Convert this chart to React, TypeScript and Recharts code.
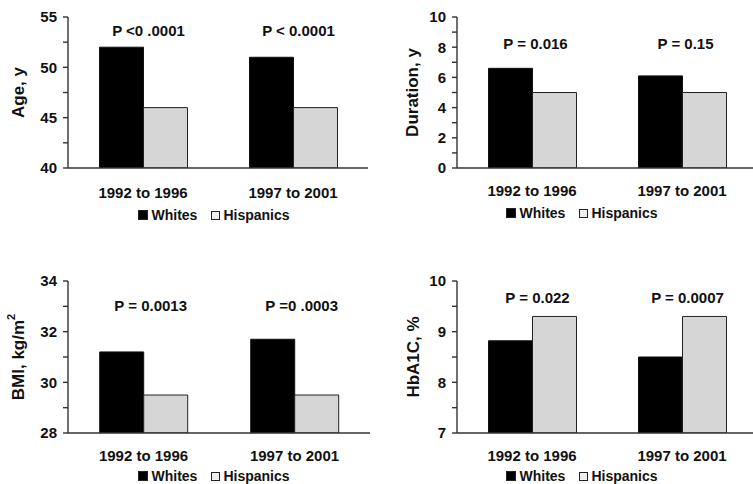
import React from 'react';
import { BarChart, Bar, XAxis, YAxis, Legend, LabelList } from 'recharts';

const periods = ['1992 to 1996', '1997 to 2001'];
const seriesNames = ['Whites', 'Hispanics'];

const ageWhites = [52, 51];
const ageHispanics = [46, 46];
const ageP = ['P <0 .0001', 'P < 0.0001'];
const ageTicks = [40, 42.5, 45, 47.5, 50, 52.5, 55];
const ageLabels = [40, 45, 50, 55];

const durWhites = [6.6, 6.1];
const durHispanics = [5.0, 5.0];
const durP = ['P = 0.016', 'P = 0.15'];
const durTicks = [0, 1, 2, 3, 4, 5, 6, 7, 8, 9, 10];
const durLabels = [0, 2, 4, 6, 8, 10];

const bmiWhites = [31.2, 31.7];
const bmiHispanics = [29.5, 29.5];
const bmiP = ['P = 0.0013', 'P =0 .0003'];
const bmiTicks = [28, 29, 30, 31, 32, 33, 34];
const bmiLabels = [28, 30, 32, 34];

const hbaWhites = [8.82, 8.5];
const hbaHispanics = [9.3, 9.3];
const hbaP = ['P = 0.022', 'P = 0.0007'];
const hbaTicks = [7, 7.5, 8, 8.5, 9, 9.5, 10];
const hbaLabels = [7, 8, 9, 10];

const FONT = '"Liberation Sans", Arial, sans-serif';
const INK = '#111';
const AXIS = '#333';
const GRAY = '#d6d6d6';

type PanelProps = {
  left: number;
  top: number;
  width: number;
  height: number;
  margin: { top: number; right: number; bottom: number; left: number };
  yAxisWidth: number;
  domain: [number, number];
  ticks: number[];
  labels: number[];
  yLabel: React.ReactNode;
  yLabelX: number;
  whites: number[];
  hispanics: number[];
  pvals: string[];
  pOffset: number;
  pDx: number;
  xTickMargin: number;
  legendTop: number;
  legendLeft: number;
  legendWidth: number;
};

const LegendContent = (props: any) => {
  const payload = [...(props.payload || [])].sort(
    (a: any, b: any) => seriesNames.indexOf(a.value) - seriesNames.indexOf(b.value)
  );
  return (
    <div
      style={{
        display: 'flex',
        justifyContent: 'center',
        alignItems: 'center',
        fontFamily: FONT,
        fontWeight: 700,
        fontSize: 14,
        color: INK,
        lineHeight: '16px',
      }}
    >
      {payload.map((entry: any, i: number) => (
        <span key={i} style={{ display: 'flex', alignItems: 'center', marginLeft: i === 0 ? 0 : 14 }}>
          <span
            style={{
              display: 'inline-block',
              width: i === 0 ? 10 : 9,
              height: i === 0 ? 10 : 9,
              boxSizing: 'border-box',
              background: i === 0 ? entry.color : '#eeeeee',
              border: '1.5px solid #222',
              marginRight: 3,
              flex: 'none',
            }}
          />
          <span style={{ fontFamily: FONT, fontWeight: 700, fontSize: 14 }}>{entry.value}</span>
        </span>
      ))}
    </div>
  );
};

function Panel(p: PanelProps) {
  const data = periods.map((period, i) => ({
    period,
    whites: p.whites[i],
    hispanics: p.hispanics[i],
    p: p.pvals[i],
  }));
  const pLabel = (lp: any) => (
    <text
      x={lp.x + lp.width + p.pDx}
      y={p.margin.top + p.pOffset}
      textAnchor="middle"
      dominantBaseline="central"
      fontFamily={FONT}
      fontWeight="bold"
      fontSize={15}
      fill={INK}
    >
      {lp.value}
    </text>
  );
  return (
    <div style={{ position: 'absolute', left: p.left, top: p.top }}>
      <BarChart
        width={p.width}
        height={p.height}
        data={data}
        margin={p.margin}
        barCategoryGap="21%"
        barGap={0}
      >
        <XAxis
          dataKey="period"
          tickLine={false}
          tickSize={0}
          tickMargin={p.xTickMargin}
          height={30}
          stroke={AXIS}
          strokeWidth={1.4}
          tick={{ fontFamily: FONT, fontWeight: 'bold', fontSize: 15, fill: INK }}
        />
        <YAxis
          width={p.yAxisWidth}
          domain={p.domain}
          ticks={p.ticks}
          interval={0}
          allowDataOverflow
          tickSize={5}
          tickMargin={6}
          stroke={AXIS}
          strokeWidth={1.4}
          tickFormatter={(v: number) => (p.labels.includes(v) ? String(v) : '')}
          tick={{ fontFamily: FONT, fontWeight: 'bold', fontSize: 15, fill: INK }}
          label={(lp: any) => {
            const vb = lp.viewBox || {};
            const cx = (vb.x || 0) + p.yLabelX;
            const cy = (vb.y || 0) + (vb.height || 0) / 2;
            return (
              <text
                x={cx}
                y={cy}
                transform={`rotate(-90 ${cx} ${cy})`}
                textAnchor="middle"
                dominantBaseline="central"
                fontFamily={FONT}
                fontWeight="bold"
                fontSize={17}
                fill={INK}
              >
                {p.yLabel}
              </text>
            );
          }}
        />
        <Legend
          verticalAlign="middle"
          align="center"
          layout="horizontal"
          content={<LegendContent />}
          wrapperStyle={{
            position: 'absolute',
            top: p.legendTop - 8,
            left: p.legendLeft,
            width: p.legendWidth,
            height: 16,
          }}
        />
        <Bar dataKey="whites" name="Whites" fill="#000" stroke="#111" strokeWidth={1} isAnimationActive={false}>
          <LabelList dataKey="p" content={pLabel} />
        </Bar>
        <Bar dataKey="hispanics" name="Hispanics" fill={GRAY} stroke="#222" strokeWidth={1} isAnimationActive={false} />
      </BarChart>
    </div>
  );
}

export default function App() {
  return (
    <div
      style={{
        position: 'absolute',
        left: 0,
        top: 0,
        width: 753,
        height: 484,
        overflow: 'hidden',
        background: '#fff',
      }}
    >
      <Panel
        left={0}
        top={0}
        width={376}
        height={240}
        margin={{ top: 17, right: 8, bottom: 42, left: 0 }}
        yAxisWidth={68}
        domain={[40, 55]}
        ticks={ageTicks}
        labels={ageLabels}
        yLabel="Age, y"
        yLabelX={18}
        whites={ageWhites}
        hispanics={ageHispanics}
        pvals={ageP}
        pOffset={13}
        pDx={5}
        xTickMargin={19}
        legendTop={215}
        legendLeft={60}
        legendWidth={308}
      />
      <Panel
        left={380}
        top={0}
        width={380}
        height={240}
        margin={{ top: 17, right: 3, bottom: 42, left: 0 }}
        yAxisWidth={77}
        domain={[0, 10]}
        ticks={durTicks}
        labels={durLabels}
        yLabel="Duration, y"
        yLabelX={32}
        whites={durWhites}
        hispanics={durHispanics}
        pvals={durP}
        pOffset={26}
        pDx={3}
        xTickMargin={17}
        legendTop={213}
        legendLeft={70}
        legendWidth={264}
      />
      <Panel
        left={0}
        top={240}
        width={376}
        height={244}
        margin={{ top: 41, right: 6, bottom: 21, left: 0 }}
        yAxisWidth={68}
        domain={[28, 34]}
        ticks={bmiTicks}
        labels={bmiLabels}
        yLabel={
          <>
            BMI, kg/m
            <tspan dy={-7} fontSize={11}>
              2
            </tspan>
          </>
        }
        yLabelX={18}
        whites={bmiWhites}
        hispanics={bmiHispanics}
        pvals={bmiP}
        pOffset={24}
        pDx={7}
        xTickMargin={17}
        legendTop={236}
        legendLeft={60}
        legendWidth={308}
      />
      <Panel
        left={380}
        top={240}
        width={380}
        height={244}
        margin={{ top: 41, right: 3, bottom: 21, left: 0 }}
        yAxisWidth={77}
        domain={[7, 10]}
        ticks={hbaTicks}
        labels={hbaLabels}
        yLabel="HbA1C, %"
        yLabelX={33}
        whites={hbaWhites}
        hispanics={hbaHispanics}
        pvals={hbaP}
        pOffset={16}
        pDx={5}
        xTickMargin={17}
        legendTop={236}
        legendLeft={70}
        legendWidth={264}
      />
    </div>
  );
}
